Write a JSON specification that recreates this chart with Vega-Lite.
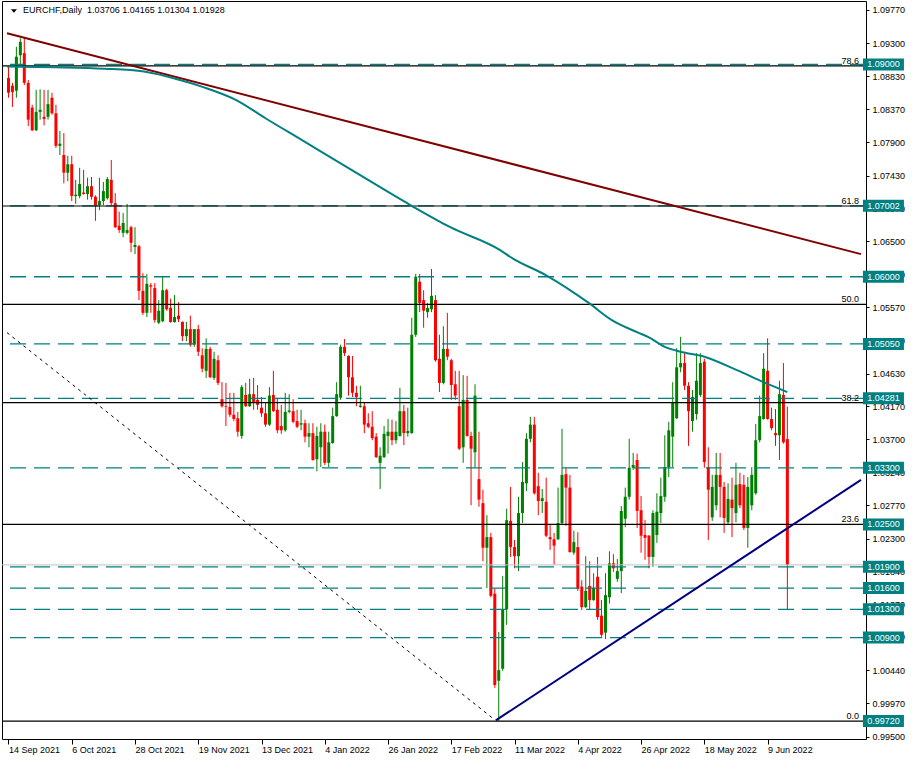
{
"$schema":"https://vega.github.io/schema/vega-lite/v6.json",
"width":864,"height":738,
"autosize":{"type":"none"},
"padding":{"left":2,"top":1,"right":46,"bottom":21},
"background":"white",
"config":{"view":{"stroke":"#000000","strokeWidth":1},"axis":{"grid":false,"labelFont":"Liberation Sans","labelFontSize":9,"labelColor":"#000000","tickColor":"#000000","domain":false,"title":null,"labelOverlap":false}},
"datasets":{
"candles":[
{"i":0,"o":1.0881,"h":1.0899,"l":1.0853,"c":1.0860},
{"i":1,"o":1.0870,"h":1.0874,"l":1.0840,"c":1.0861},
{"i":2,"o":1.0863,"h":1.0925,"l":1.0853,"c":1.0911},
{"i":3,"o":1.0913,"h":1.0937,"l":1.0899,"c":1.0932},
{"i":4,"o":1.0916,"h":1.0937,"l":1.0871,"c":1.0874},
{"i":5,"o":1.0874,"h":1.0878,"l":1.0813,"c":1.0822},
{"i":6,"o":1.0839,"h":1.0843,"l":1.0806,"c":1.0807},
{"i":7,"o":1.0807,"h":1.0864,"l":1.0806,"c":1.0833},
{"i":8,"o":1.0833,"h":1.0865,"l":1.0822,"c":1.0836},
{"i":9,"o":1.0826,"h":1.0864,"l":1.0814,"c":1.0823},
{"i":10,"o":1.0826,"h":1.0864,"l":1.0822,"c":1.0844},
{"i":11,"o":1.0853,"h":1.0860,"l":1.0829,"c":1.0831},
{"i":12,"o":1.0831,"h":1.0843,"l":1.0782,"c":1.0785},
{"i":13,"o":1.0785,"h":1.0806,"l":1.0772,"c":1.0788},
{"i":14,"o":1.0772,"h":1.0803,"l":1.0732,"c":1.0747},
{"i":15,"o":1.0747,"h":1.0771,"l":1.0735,"c":1.0759},
{"i":16,"o":1.0759,"h":1.0771,"l":1.0707,"c":1.0714},
{"i":17,"o":1.0714,"h":1.0737,"l":1.0703,"c":1.0716},
{"i":18,"o":1.0714,"h":1.0754,"l":1.0711,"c":1.0731},
{"i":19,"o":1.0719,"h":1.0751,"l":1.0716,"c":1.0717},
{"i":20,"o":1.0717,"h":1.0740,"l":1.0709,"c":1.0728},
{"i":21,"o":1.0728,"h":1.0741,"l":1.0709,"c":1.0713},
{"i":22,"o":1.0713,"h":1.0715,"l":1.0679,"c":1.0701},
{"i":23,"o":1.0701,"h":1.0740,"l":1.0694,"c":1.0707},
{"i":24,"o":1.0707,"h":1.0734,"l":1.0701,"c":1.0721},
{"i":25,"o":1.0711,"h":1.0741,"l":1.0709,"c":1.0738},
{"i":26,"o":1.0737,"h":1.0765,"l":1.0701,"c":1.0704},
{"i":27,"o":1.0704,"h":1.0718,"l":1.0669,"c":1.0670},
{"i":28,"o":1.0672,"h":1.0692,"l":1.0662,"c":1.0666},
{"i":29,"o":1.0662,"h":1.0690,"l":1.0656,"c":1.0676},
{"i":30,"o":1.0662,"h":1.0703,"l":1.0660,"c":1.0666},
{"i":31,"o":1.0670,"h":1.0672,"l":1.0635,"c":1.0648},
{"i":32,"o":1.0642,"h":1.0670,"l":1.0632,"c":1.0645},
{"i":33,"o":1.0643,"h":1.0645,"l":1.0567,"c":1.0580},
{"i":34,"o":1.0580,"h":1.0605,"l":1.0546,"c":1.0549},
{"i":35,"o":1.0549,"h":1.0604,"l":1.0543,"c":1.0590},
{"i":36,"o":1.0588,"h":1.0591,"l":1.0549,"c":1.0586},
{"i":37,"o":1.0584,"h":1.0591,"l":1.0535,"c":1.0539},
{"i":38,"o":1.0535,"h":1.0567,"l":1.0533,"c":1.0552},
{"i":39,"o":1.0537,"h":1.0600,"l":1.0536,"c":1.0581},
{"i":40,"o":1.0581,"h":1.0583,"l":1.0552,"c":1.0554},
{"i":41,"o":1.0556,"h":1.0569,"l":1.0535,"c":1.0536},
{"i":42,"o":1.0536,"h":1.0574,"l":1.0535,"c":1.0543},
{"i":43,"o":1.0545,"h":1.0564,"l":1.0536,"c":1.0540},
{"i":44,"o":1.0536,"h":1.0537,"l":1.0509,"c":1.0516},
{"i":45,"o":1.0516,"h":1.0536,"l":1.0509,"c":1.0526},
{"i":46,"o":1.0526,"h":1.0545,"l":1.0501,"c":1.0504},
{"i":47,"o":1.0504,"h":1.0525,"l":1.0501,"c":1.0526},
{"i":48,"o":1.0526,"h":1.0532,"l":1.0488,"c":1.0494},
{"i":49,"o":1.0489,"h":1.0499,"l":1.0465,"c":1.0470},
{"i":50,"o":1.0467,"h":1.0513,"l":1.0457,"c":1.0498},
{"i":51,"o":1.0498,"h":1.0501,"l":1.0457,"c":1.0458},
{"i":52,"o":1.0457,"h":1.0494,"l":1.0454,"c":1.0484},
{"i":53,"o":1.0482,"h":1.0489,"l":1.0447,"c":1.0450},
{"i":54,"o":1.0427,"h":1.0451,"l":1.0415,"c":1.0417},
{"i":55,"o":1.0417,"h":1.0450,"l":1.0389,"c":1.0416},
{"i":56,"o":1.0416,"h":1.0436,"l":1.0402,"c":1.0405},
{"i":57,"o":1.0405,"h":1.0436,"l":1.0396,"c":1.0399},
{"i":58,"o":1.0400,"h":1.0409,"l":1.0374,"c":1.0381},
{"i":59,"o":1.0375,"h":1.0447,"l":1.0371,"c":1.0444},
{"i":60,"o":1.0433,"h":1.0450,"l":1.0416,"c":1.0417},
{"i":61,"o":1.0417,"h":1.0456,"l":1.0416,"c":1.0434},
{"i":62,"o":1.0434,"h":1.0457,"l":1.0412,"c":1.0422},
{"i":63,"o":1.0426,"h":1.0447,"l":1.0412,"c":1.0419},
{"i":64,"o":1.0415,"h":1.0430,"l":1.0402,"c":1.0407},
{"i":65,"o":1.0407,"h":1.0422,"l":1.0388,"c":1.0391},
{"i":66,"o":1.0391,"h":1.0444,"l":1.0389,"c":1.0432},
{"i":67,"o":1.0433,"h":1.0467,"l":1.0409,"c":1.0410},
{"i":68,"o":1.0412,"h":1.0429,"l":1.0379,"c":1.0383},
{"i":69,"o":1.0389,"h":1.0419,"l":1.0378,"c":1.0383},
{"i":70,"o":1.0383,"h":1.0436,"l":1.0381,"c":1.0409},
{"i":71,"o":1.0409,"h":1.0434,"l":1.0407,"c":1.0411},
{"i":72,"o":1.0410,"h":1.0427,"l":1.0393,"c":1.0395},
{"i":73,"o":1.0396,"h":1.0412,"l":1.0386,"c":1.0388},
{"i":74,"o":1.0391,"h":1.0412,"l":1.0383,"c":1.0393},
{"i":75,"o":1.0393,"h":1.0398,"l":1.0366,"c":1.0374},
{"i":76,"o":1.0374,"h":1.0393,"l":1.0359,"c":1.0379},
{"i":77,"o":1.0379,"h":1.0393,"l":1.0340,"c":1.0341},
{"i":78,"o":1.0342,"h":1.0388,"l":1.0325,"c":1.0375},
{"i":79,"o":1.0359,"h":1.0393,"l":1.0331,"c":1.0381},
{"i":80,"o":1.0381,"h":1.0391,"l":1.0334,"c":1.0337},
{"i":81,"o":1.0337,"h":1.0381,"l":1.0331,"c":1.0366},
{"i":82,"o":1.0365,"h":1.0415,"l":1.0364,"c":1.0403},
{"i":83,"o":1.0403,"h":1.0451,"l":1.0402,"c":1.0434},
{"i":84,"o":1.0429,"h":1.0504,"l":1.0426,"c":1.0501},
{"i":85,"o":1.0501,"h":1.0512,"l":1.0488,"c":1.0492},
{"i":86,"o":1.0488,"h":1.0489,"l":1.0432,"c":1.0458},
{"i":87,"o":1.0458,"h":1.0488,"l":1.0430,"c":1.0436},
{"i":88,"o":1.0436,"h":1.0446,"l":1.0417,"c":1.0430},
{"i":89,"o":1.0416,"h":1.0446,"l":1.0415,"c":1.0418},
{"i":90,"o":1.0417,"h":1.0423,"l":1.0379,"c":1.0391},
{"i":91,"o":1.0393,"h":1.0407,"l":1.0386,"c":1.0388},
{"i":92,"o":1.0388,"h":1.0410,"l":1.0369,"c":1.0372},
{"i":93,"o":1.0374,"h":1.0379,"l":1.0344,"c":1.0345},
{"i":94,"o":1.0337,"h":1.0359,"l":1.0300,"c":1.0347},
{"i":95,"o":1.0345,"h":1.0389,"l":1.0344,"c":1.0378},
{"i":96,"o":1.0375,"h":1.0399,"l":1.0350,"c":1.0381},
{"i":97,"o":1.0381,"h":1.0398,"l":1.0362,"c":1.0369},
{"i":98,"o":1.0369,"h":1.0396,"l":1.0364,"c":1.0381},
{"i":99,"o":1.0375,"h":1.0443,"l":1.0374,"c":1.0410},
{"i":100,"o":1.0410,"h":1.0419,"l":1.0362,"c":1.0379},
{"i":101,"o":1.0379,"h":1.0415,"l":1.0374,"c":1.0382},
{"i":102,"o":1.0379,"h":1.0542,"l":1.0378,"c":1.0518},
{"i":103,"o":1.0518,"h":1.0604,"l":1.0515,"c":1.0600},
{"i":104,"o":1.0593,"h":1.0604,"l":1.0550,"c":1.0563},
{"i":105,"o":1.0567,"h":1.0581,"l":1.0528,"c":1.0552},
{"i":106,"o":1.0550,"h":1.0563,"l":1.0542,"c":1.0556},
{"i":107,"o":1.0554,"h":1.0611,"l":1.0550,"c":1.0573},
{"i":108,"o":1.0567,"h":1.0574,"l":1.0480,"c":1.0482},
{"i":109,"o":1.0484,"h":1.0518,"l":1.0437,"c":1.0450},
{"i":110,"o":1.0450,"h":1.0530,"l":1.0448,"c":1.0498},
{"i":111,"o":1.0498,"h":1.0549,"l":1.0482,"c":1.0487},
{"i":112,"o":1.0482,"h":1.0484,"l":1.0426,"c":1.0447},
{"i":113,"o":1.0448,"h":1.0467,"l":1.0426,"c":1.0432},
{"i":114,"o":1.0417,"h":1.0467,"l":1.0355,"c":1.0357},
{"i":115,"o":1.0359,"h":1.0461,"l":1.0337,"c":1.0426},
{"i":116,"o":1.0426,"h":1.0460,"l":1.0374,"c":1.0375},
{"i":117,"o":1.0375,"h":1.0381,"l":1.0277,"c":1.0357},
{"i":118,"o":1.0352,"h":1.0448,"l":1.0330,"c":1.0432},
{"i":119,"o":1.0314,"h":1.0381,"l":1.0275,"c":1.0285},
{"i":120,"o":1.0280,"h":1.0299,"l":1.0198,"c":1.0217},
{"i":121,"o":1.0217,"h":1.0263,"l":1.0160,"c":1.0232},
{"i":122,"o":1.0232,"h":1.0238,"l":1.0147,"c":1.0149},
{"i":123,"o":1.0152,"h":1.0159,"l":1.0019,"c":1.0023},
{"i":124,"o":1.0029,"h":1.0098,"l":0.9972,"c":1.0044},
{"i":125,"o":1.0046,"h":1.0177,"l":1.0043,"c":1.0130},
{"i":126,"o":1.0130,"h":1.0272,"l":1.0108,"c":1.0256},
{"i":127,"o":1.0255,"h":1.0303,"l":1.0204,"c":1.0218},
{"i":128,"o":1.0218,"h":1.0228,"l":1.0188,"c":1.0205},
{"i":129,"o":1.0205,"h":1.0289,"l":1.0184,"c":1.0266},
{"i":130,"o":1.0266,"h":1.0338,"l":1.0252,"c":1.0310},
{"i":131,"o":1.0308,"h":1.0379,"l":1.0297,"c":1.0371},
{"i":132,"o":1.0371,"h":1.0402,"l":1.0366,"c":1.0391},
{"i":133,"o":1.0391,"h":1.0402,"l":1.0292,"c":1.0294},
{"i":134,"o":1.0304,"h":1.0323,"l":1.0263,"c":1.0283},
{"i":135,"o":1.0283,"h":1.0300,"l":1.0266,"c":1.0287},
{"i":136,"o":1.0282,"h":1.0316,"l":1.0232,"c":1.0234},
{"i":137,"o":1.0232,"h":1.0249,"l":1.0214,"c":1.0229},
{"i":138,"o":1.0229,"h":1.0238,"l":1.0193,"c":1.0220},
{"i":139,"o":1.0229,"h":1.0302,"l":1.0228,"c":1.0252},
{"i":140,"o":1.0252,"h":1.0385,"l":1.0249,"c":1.0320},
{"i":141,"o":1.0321,"h":1.0330,"l":1.0248,"c":1.0302},
{"i":142,"o":1.0302,"h":1.0320,"l":1.0210,"c":1.0211},
{"i":143,"o":1.0210,"h":1.0241,"l":1.0207,"c":1.0225},
{"i":144,"o":1.0218,"h":1.0239,"l":1.0156,"c":1.0159},
{"i":145,"o":1.0162,"h":1.0171,"l":1.0129,"c":1.0133},
{"i":146,"o":1.0133,"h":1.0205,"l":1.0132,"c":1.0156},
{"i":147,"o":1.0163,"h":1.0198,"l":1.0129,"c":1.0143},
{"i":148,"o":1.0143,"h":1.0181,"l":1.0142,"c":1.0160},
{"i":149,"o":1.0176,"h":1.0204,"l":1.0115,"c":1.0119},
{"i":150,"o":1.0121,"h":1.0143,"l":1.0091,"c":1.0094},
{"i":151,"o":1.0097,"h":1.0181,"l":1.0088,"c":1.0150},
{"i":152,"o":1.0147,"h":1.0212,"l":1.0138,"c":1.0195},
{"i":153,"o":1.0195,"h":1.0208,"l":1.0183,"c":1.0188},
{"i":154,"o":1.0173,"h":1.0201,"l":1.0169,"c":1.0184},
{"i":155,"o":1.0184,"h":1.0276,"l":1.0153,"c":1.0269},
{"i":156,"o":1.0258,"h":1.0302,"l":1.0246,"c":1.0289},
{"i":157,"o":1.0289,"h":1.0371,"l":1.0285,"c":1.0330},
{"i":158,"o":1.0330,"h":1.0351,"l":1.0327,"c":1.0334},
{"i":159,"o":1.0341,"h":1.0350,"l":1.0245,"c":1.0269},
{"i":160,"o":1.0270,"h":1.0290,"l":1.0210,"c":1.0234},
{"i":161,"o":1.0235,"h":1.0256,"l":1.0200,"c":1.0231},
{"i":162,"o":1.0234,"h":1.0235,"l":1.0188,"c":1.0204},
{"i":163,"o":1.0204,"h":1.0270,"l":1.0190,"c":1.0266},
{"i":164,"o":1.0235,"h":1.0294,"l":1.0224,"c":1.0268},
{"i":165,"o":1.0266,"h":1.0316,"l":1.0252,"c":1.0290},
{"i":166,"o":1.0289,"h":1.0376,"l":1.0282,"c":1.0331},
{"i":167,"o":1.0331,"h":1.0395,"l":1.0317,"c":1.0383},
{"i":168,"o":1.0374,"h":1.0451,"l":1.0331,"c":1.0423},
{"i":169,"o":1.0400,"h":1.0499,"l":1.0399,"c":1.0472},
{"i":170,"o":1.0472,"h":1.0515,"l":1.0465,"c":1.0478},
{"i":171,"o":1.0478,"h":1.0492,"l":1.0440,"c":1.0446},
{"i":172,"o":1.0446,"h":1.0451,"l":1.0361,"c":1.0410},
{"i":173,"o":1.0396,"h":1.0440,"l":1.0381,"c":1.0430},
{"i":174,"o":1.0406,"h":1.0492,"l":1.0398,"c":1.0453},
{"i":175,"o":1.0433,"h":1.0492,"l":1.0430,"c":1.0478},
{"i":176,"o":1.0480,"h":1.0484,"l":1.0330,"c":1.0338},
{"i":177,"o":1.0331,"h":1.0359,"l":1.0228,"c":1.0299},
{"i":178,"o":1.0260,"h":1.0320,"l":1.0255,"c":1.0303},
{"i":179,"o":1.0277,"h":1.0351,"l":1.0270,"c":1.0320},
{"i":180,"o":1.0320,"h":1.0351,"l":1.0260,"c":1.0303},
{"i":181,"o":1.0303,"h":1.0310,"l":1.0238,"c":1.0259},
{"i":182,"o":1.0253,"h":1.0308,"l":1.0249,"c":1.0286},
{"i":183,"o":1.0285,"h":1.0316,"l":1.0232,"c":1.0273},
{"i":184,"o":1.0266,"h":1.0337,"l":1.0253,"c":1.0306},
{"i":185,"o":1.0307,"h":1.0323,"l":1.0273,"c":1.0277},
{"i":186,"o":1.0306,"h":1.0320,"l":1.0242,"c":1.0245},
{"i":187,"o":1.0245,"h":1.0317,"l":1.0217,"c":1.0303},
{"i":188,"o":1.0277,"h":1.0331,"l":1.0270,"c":1.0320},
{"i":189,"o":1.0294,"h":1.0392,"l":1.0292,"c":1.0369},
{"i":190,"o":1.0369,"h":1.0432,"l":1.0366,"c":1.0403},
{"i":191,"o":1.0399,"h":1.0492,"l":1.0398,"c":1.0470},
{"i":192,"o":1.0467,"h":1.0513,"l":1.0398,"c":1.0399},
{"i":193,"o":1.0399,"h":1.0415,"l":1.0383,"c":1.0386},
{"i":194,"o":1.0379,"h":1.0413,"l":1.0361,"c":1.0376},
{"i":195,"o":1.0376,"h":1.0453,"l":1.0341,"c":1.0434},
{"i":196,"o":1.0433,"h":1.0478,"l":1.0364,"c":1.0366},
{"i":197,"o":1.03706,"h":1.04165,"l":1.01304,"c":1.01928}
],
"levels":[{"p":1.09},{"p":1.07002},{"p":1.06},{"p":1.0505},{"p":1.04281},{"p":1.033},{"p":1.019},{"p":1.016},{"p":1.013},{"p":1.009}],
"fibs":[{"p":1.0898,"label":"78.6"},{"p":1.0700,"label":"61.8"},{"p":1.0561,"label":"50.0"},{"p":1.0422,"label":"38.2"},{"p":1.0250,"label":"23.6"},{"p":0.9972,"label":"0.0"}],
"bid":[{"p":1.01928}],
"boxes":[{"p":1.09,"label":"1.09000"},{"p":1.07002,"label":"1.07002"},{"p":1.06,"label":"1.06000"},{"p":1.0505,"label":"1.05050"},{"p":1.04281,"label":"1.04281"},{"p":1.033,"label":"1.03300"},{"p":1.025,"label":"1.02500"},{"p":1.019,"label":"1.01900"},{"p":1.016,"label":"1.01600"},{"p":1.013,"label":"1.01300"},{"p":1.009,"label":"1.00900"},{"p":0.9972,"label":"0.99720"}],
"maroon":[{"i":-0.375,"p":1.0944},{"i":215.625,"p":1.0632}],
"navy":[{"i":123.25,"p":0.9973},{"i":215.625,"p":1.0313}],
"dotted":[{"i":-0.375,"p":1.0521},{"i":122.5,"p":0.9976}],
"ma":[{"i":-0.375,"p":1.0897},{"i":11.75,"p":1.0896},{"i":24.25,"p":1.0894},{"i":34.25,"p":1.0890},{"i":43.4,"p":1.0878},{"i":49.25,"p":1.0868},{"i":57.5,"p":1.0850},{"i":65,"p":1.0824},{"i":74.25,"p":1.0793},{"i":86.75,"p":1.0751},{"i":101.75,"p":1.0701},{"i":111.75,"p":1.0670},{"i":124.25,"p":1.0638},{"i":127.5,"p":1.0626},{"i":136,"p":1.0602},{"i":146.75,"p":1.0563},{"i":152.5,"p":1.0539},{"i":159.25,"p":1.0521},{"i":161.75,"p":1.0515},{"i":166,"p":1.0501},{"i":170,"p":1.0494},{"i":176,"p":1.0487},{"i":184.25,"p":1.0468},{"i":191,"p":1.0451},{"i":197,"p":1.0437}],
"header":[{"i":3.7,"p":1.09763,"label":"EURCHF,Daily\u00a0 1.03706 1.04165 1.01304 1.01928"}],
"tri":[{"i":1.375,"p":1.09756}]
},
"layer":[
{"data":{"name":"candles"},"mark":{"type":"rule","strokeWidth":1},
 "encoding":{
  "x":{"field":"i","type":"quantitative","scale":{"domain":[-0.375,215.625],"nice":false,"zero":false},
   "axis":{"orient":"bottom","values":[0,16,32,48,64,80,96,112,128,144,160,176,192],"tickCount":60,"labelExpr":"['14 Sep 2021','6 Oct 2021','28 Oct 2021','19 Nov 2021','13 Dec 2021','4 Jan 2022','26 Jan 2022','17 Feb 2022','11 Mar 2022','4 Apr 2022','26 Apr 2022','18 May 2022','9 Jun 2022'][round(datum.value/16)]","labelAlign":"left","labelBaseline":"top","tickSize":5,"labelPadding":1,"labelOverlap":false,"labelFlush":false}},
  "y":{"field":"l","type":"quantitative","scale":{"domain":[0.99467,1.09897],"nice":false,"zero":false},
   "axis":{"orient":"right","values":[1.0977,1.093,1.0883,1.0837,1.079,1.0743,1.0697,1.065,1.0603,1.0557,1.051,1.0463,1.0417,1.037,1.0324,1.0277,1.023,1.0184,1.0137,1.0091,1.0044,0.9997,0.995],"tickCount":60,"format":".5f","tickSize":3,"labelPadding":3,"labelOverlap":false,"labelFlush":false,"labelBaseline":"middle"}},
  "y2":{"field":"h"},
  "color":{"condition":{"test":"datum.c >= datum.o","value":"#008000"},"value":"#ff0000"}
 }},
{"data":{"name":"candles"},"mark":{"type":"bar","width":3},
 "encoding":{
  "x":{"field":"i","type":"quantitative","scale":{"domain":[-0.375,215.625],"nice":false,"zero":false}},
  "y":{"field":"o","type":"quantitative","scale":{"domain":[0.99467,1.09897],"nice":false,"zero":false}},
  "y2":{"field":"c"},
  "color":{"condition":{"test":"datum.c >= datum.o","value":"#008000"},"value":"#ff0000"}
 }},
{"data":{"name":"levels"},"mark":{"type":"rule","color":"#008080","strokeDash":[16,8],"strokeWidth":1.3},
 "encoding":{"y":{"field":"p","type":"quantitative","scale":{"domain":[0.99467,1.09897],"nice":false,"zero":false}}}},
{"data":{"name":"fibs"},"mark":{"type":"rule","color":"#000000","strokeWidth":1.2},
 "encoding":{"y":{"field":"p","type":"quantitative","scale":{"domain":[0.99467,1.09897],"nice":false,"zero":false}}}},
{"data":{"name":"bid"},"mark":{"type":"rule","color":"#c0c0c0","strokeWidth":1},
 "encoding":{"y":{"field":"p","type":"quantitative","scale":{"domain":[0.99467,1.09897],"nice":false,"zero":false}}}},
{"data":{"name":"dotted"},"mark":{"type":"line","color":"#000000","strokeWidth":1,"strokeDash":[3,4]},
 "encoding":{"x":{"field":"i","type":"quantitative","scale":{"domain":[-0.375,215.625],"nice":false,"zero":false}},"y":{"field":"p","type":"quantitative","scale":{"domain":[0.99467,1.09897],"nice":false,"zero":false}}}},
{"data":{"name":"maroon"},"mark":{"type":"line","color":"#800000","strokeWidth":2},
 "encoding":{"x":{"field":"i","type":"quantitative","scale":{"domain":[-0.375,215.625],"nice":false,"zero":false}},"y":{"field":"p","type":"quantitative","scale":{"domain":[0.99467,1.09897],"nice":false,"zero":false}}}},
{"data":{"name":"ma"},"mark":{"type":"line","color":"#008080","strokeWidth":2,"interpolate":"monotone"},
 "encoding":{"x":{"field":"i","type":"quantitative","scale":{"domain":[-0.375,215.625],"nice":false,"zero":false}},"y":{"field":"p","type":"quantitative","scale":{"domain":[0.99467,1.09897],"nice":false,"zero":false}}}},
{"data":{"name":"navy"},"mark":{"type":"line","color":"#000080","strokeWidth":2},
 "encoding":{"x":{"field":"i","type":"quantitative","scale":{"domain":[-0.375,215.625],"nice":false,"zero":false}},"y":{"field":"p","type":"quantitative","scale":{"domain":[0.99467,1.09897],"nice":false,"zero":false}}}},
{"data":{"name":"fibs"},"mark":{"type":"text","align":"right","baseline":"alphabetic","dy":-2,"font":"Liberation Sans","fontSize":9,"color":"#000000"},
 "encoding":{"x":{"datum":215.125,"type":"quantitative"},"y":{"field":"p","type":"quantitative"},"text":{"field":"label"}}},
{"data":{"name":"boxes"},"mark":{"type":"tick","orient":"horizontal","size":41,"thickness":12,"color":"#008080","opacity":1},
 "encoding":{"x":{"datum":221.3,"type":"quantitative"},"y":{"field":"p","type":"quantitative"}}},
{"data":{"name":"boxes"},"mark":{"type":"text","align":"center","baseline":"middle","font":"Liberation Sans","fontSize":9,"color":"#ffffff"},
 "encoding":{"x":{"datum":221.3,"type":"quantitative"},"y":{"field":"p","type":"quantitative"},"text":{"field":"label"}}},
{"data":{"name":"tri"},"mark":{"type":"point","shape":"M-1,-0.55L1,-0.55L0,0.55Z","filled":true,"size":36,"color":"#000000","opacity":1},
 "encoding":{"x":{"field":"i","type":"quantitative"},"y":{"field":"p","type":"quantitative"}}},
{"data":{"name":"header"},"mark":{"type":"text","align":"left","baseline":"middle","font":"Liberation Sans","fontSize":9,"color":"#000000"},
 "encoding":{"x":{"field":"i","type":"quantitative"},"y":{"field":"p","type":"quantitative"},"text":{"field":"label"}}}
]
}
